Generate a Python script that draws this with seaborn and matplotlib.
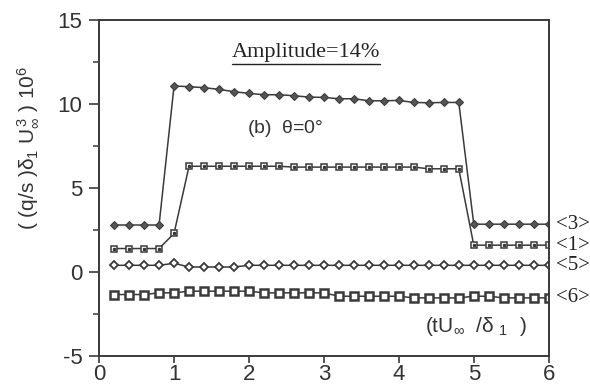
import numpy as np
import pandas as pd
import matplotlib
matplotlib.use("Agg")
import matplotlib.pyplot as plt
import seaborn as sns
from matplotlib.lines import Line2D

# time axis (tU_inf / delta_1)
t = [0.2, 0.4, 0.6, 0.8, 1.0, 1.2, 1.4, 1.6, 1.8, 2.0,
     2.2, 2.4, 2.6, 2.8, 3.0, 3.2, 3.4, 3.6, 3.8, 4.0,
     4.2, 4.4, 4.6, 4.8, 5.0, 5.2, 5.4, 5.6, 5.8, 6.0]

# series
s3 = [2.8, 2.8, 2.8, 2.8,
      11.08, 11.04, 10.98, 10.88, 10.74, 10.64, 10.56, 10.56, 10.50, 10.42,
      10.40, 10.32, 10.32, 10.20, 10.20, 10.22, 10.10, 10.08, 10.10, 10.10,
      2.85, 2.85, 2.85, 2.85, 2.85, 2.85]
s1 = [1.4, 1.4, 1.4, 1.4, 2.3,
      6.3, 6.3, 6.3, 6.3, 6.3, 6.3, 6.3,
      6.25, 6.25, 6.25, 6.25, 6.25, 6.25, 6.25, 6.25, 6.25,
      6.15, 6.15, 6.15,
      1.6, 1.6, 1.6, 1.6, 1.6, 1.6]
s5 = [0.4, 0.4, 0.4, 0.4, 0.52, 0.3, 0.3, 0.3, 0.3, 0.4,
      0.4, 0.4, 0.4, 0.4, 0.4, 0.4, 0.4, 0.4, 0.4, 0.4,
      0.4, 0.4, 0.4, 0.4, 0.4, 0.4, 0.4, 0.4, 0.4, 0.4]
s6 = [-1.34, -1.34, -1.34, -1.24, -1.24, -1.14, -1.14, -1.14, -1.14, -1.14,
      -1.24, -1.24, -1.24, -1.24, -1.24, -1.44, -1.44, -1.44, -1.44, -1.44,
      -1.54, -1.54, -1.54, -1.54, -1.44, -1.44, -1.54, -1.54, -1.54, -1.54]

labels = ["<3>", "<1>", "<5>", "<6>"]

sns.set_theme(style="ticks")
plt.rcParams["font.family"] = ["Liberation Sans", "DejaVu Sans"]
plt.rcParams["mathtext.fontset"] = "custom"
plt.rcParams["mathtext.rm"] = "Liberation Sans"
plt.rcParams["mathtext.it"] = "Liberation Sans"
plt.rcParams["axes.unicode_minus"] = False

ink = "#3a3a3a"
df = pd.DataFrame({"t": t, "s3": s3, "s1": s1, "s5": s5, "s6": s6})

fig = plt.figure(figsize=(5.9, 3.88), dpi=100)
ax = fig.add_axes([0.168, 0.0825, 0.762, 0.8655])

styles = {
    "s3": dict(marker="D", markersize=4.5, markerfacecolor="#555555", markeredgecolor=ink),
    "s1": dict(marker="s", markersize=4.8, markerfacecolor="white", markeredgecolor=ink, markeredgewidth=1.1),
    "s5": dict(marker="D", markersize=4.2, markerfacecolor="white", markeredgecolor=ink, markeredgewidth=1.3),
    "s6": dict(marker="s", markersize=5.2, markerfacecolor="white", markeredgecolor=ink, markeredgewidth=1.8),
}
for col in ["s3", "s1", "s5", "s6"]:
    sns.lineplot(data=df, x="t", y=col, ax=ax, color=ink, linewidth=1.1, **styles[col])
# tiny centre dot in the <1> squares
ax.plot(df["t"], df["s1"], linestyle="none", marker="s", markersize=1.4, color=ink)

for col, lab in zip(["s3", "s1", "s5", "s6"], labels):
    ax.annotate(lab, xy=(df["t"].iloc[-1], df[col].iloc[-1]), xytext=(5, 0),
                textcoords="offset points", va="center", ha="left",
                fontsize=15, family="Liberation Serif", color="#222222",
                annotation_clip=False)

ax.set_xlim(0, 6)
ax.set_ylim(-5, 15)
ax.set_xticks([0, 1, 2, 3, 4, 5, 6])
ax.set_yticks([-5, 0, 5, 10, 15])
ax.set_yticks([-2.5, 2.5, 7.5, 12.5], minor=True)
ax.tick_params(axis="both", which="major", labelsize=16, length=5, width=1.2,
               colors=ink, labelcolor="#333333", direction="out", pad=1)
ax.tick_params(axis="y", which="major", length=7, pad=5)
ax.tick_params(axis="y", which="minor", length=4, width=1.1, colors=ink)
for sp in ax.spines.values():
    sp.set_visible(True)
    sp.set_color(ink)
    sp.set_linewidth(1.4)

ax.set_xlabel("")
ax.set_ylabel(r"( (q/s )$\delta_1$ U$_\infty^{\,3}$ ) 10$^{6}$", fontsize=15,
              color="#333333")
ax.yaxis.set_label_coords(-0.13, 0.62)

amp = ax.text(0.46, 0.89, "Amplitude=14%", transform=ax.transAxes, ha="center",
              va="baseline", fontsize=16, family="Liberation Serif", color="#222222")
ax.text(0.328, 0.678, r"(b)  $\theta$=0°", transform=ax.transAxes, ha="left",
        va="center", fontsize=14, color="#333333")
ax.text(0.724, 0.088, r"(tU$_\infty$  /$\delta$ $_1$  )", transform=ax.transAxes,
        ha="left", va="center", fontsize=15, color="#333333")

# underline the amplitude note
fig.canvas.draw()
bb = amp.get_window_extent().transformed(fig.transFigure.inverted())
fig.add_artist(Line2D([bb.x0, bb.x1], [bb.y0 - 0.006, bb.y0 - 0.006],
                      transform=fig.transFigure, color="#222222", linewidth=1.0))

fig.savefig("out.png", dpi=100, facecolor="white")
plt.close()
